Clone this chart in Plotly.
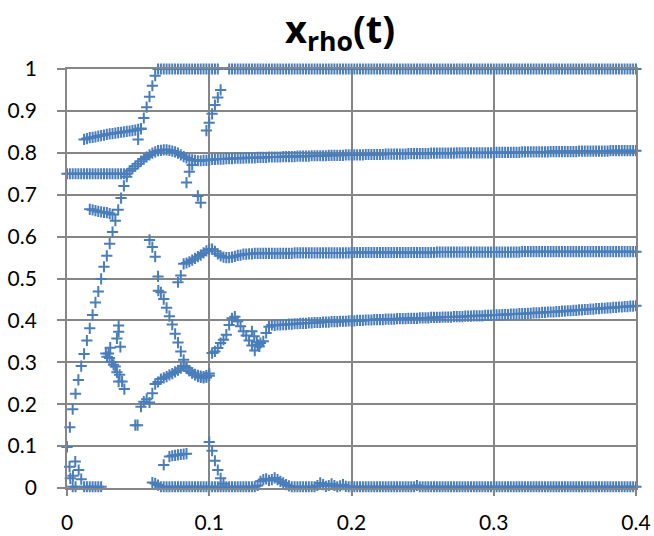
import plotly.graph_objects as go

# ---------------- data (time step of the simulation output) ----------------
DT = 0.002

def times(start_index, values):
    return [round((start_index + k) * DT, 4) for k in range(len(values))]

# top branch at 1.0
top_a_start = 32
top_a = [1, 1, 1, 1, 1, 1, 1, 1, 1, 1, 1, 1, 1, 1, 1, 1, 1, 1, 1, 1, 1, 1]
top_b_start = 57
top_b = [1, 1, 1, 1, 1, 1, 1, 1, 1, 1, 1, 1, 1, 1, 1, 1, 1, 1, 1, 1,
         1, 1, 1, 1, 1, 1, 1, 1, 1, 1, 1, 1, 1, 1, 1, 1, 1, 1, 1, 1,
         1, 1, 1, 1, 1, 1, 1, 1, 1, 1, 1, 1, 1, 1, 1, 1, 1, 1, 1, 1,
         1, 1, 1, 1, 1, 1, 1, 1, 1, 1, 1, 1, 1, 1, 1, 1, 1, 1, 1, 1,
         1, 1, 1, 1, 1, 1, 1, 1, 1, 1, 1, 1, 1, 1, 1, 1, 1, 1, 1, 1,
         1, 1, 1, 1, 1, 1, 1, 1, 1, 1, 1, 1, 1, 1, 1, 1, 1, 1, 1, 1,
         1, 1, 1, 1, 1, 1, 1, 1, 1, 1, 1, 1, 1, 1, 1, 1, 1, 1, 1, 1,
         1, 1, 1, 1]

# branch starting at 0.75 and settling near 0.8
b08_start = 0
b08 = [0.75, 0.75, 0.75, 0.75, 0.75, 0.75, 0.75, 0.75, 0.75, 0.75, 0.75,
       0.75, 0.75, 0.75, 0.75, 0.75, 0.75, 0.75, 0.75, 0.75, 0.75, 0.75,
       0.757, 0.762, 0.768, 0.774, 0.780, 0.785, 0.790, 0.795, 0.799, 0.802,
       0.805, 0.806, 0.807, 0.807, 0.806, 0.804, 0.802, 0.799, 0.795, 0.791,
       0.788, 0.785, 0.783, 0.782, 0.781, 0.781, 0.782, 0.782, 0.783,
       0.784, 0.784, 0.785, 0.785, 0.785, 0.786, 0.786, 0.786, 0.787, 0.787,
       0.787, 0.787, 0.788, 0.788, 0.788, 0.788, 0.789, 0.789, 0.789, 0.789,
       0.790, 0.790, 0.790, 0.790, 0.790, 0.791, 0.791, 0.791, 0.791, 0.791,
       0.792, 0.792, 0.792, 0.792, 0.792, 0.793, 0.793, 0.793, 0.793, 0.793,
       0.793, 0.794, 0.794, 0.794, 0.794, 0.794, 0.794, 0.795, 0.795, 0.795,
       0.795, 0.795, 0.795, 0.795, 0.796, 0.796, 0.796, 0.796, 0.796, 0.796,
       0.796, 0.797, 0.797, 0.797, 0.797, 0.797, 0.797, 0.797, 0.797, 0.798,
       0.798, 0.798, 0.798, 0.798, 0.798, 0.798, 0.798, 0.799, 0.799, 0.799,
       0.799, 0.799, 0.799, 0.799, 0.799, 0.799, 0.800, 0.800, 0.800, 0.800,
       0.800, 0.800, 0.800, 0.800, 0.800, 0.800, 0.800, 0.800, 0.800, 0.800,
       0.801, 0.801, 0.801, 0.801, 0.801, 0.801, 0.801, 0.801, 0.801, 0.802,
       0.802, 0.802, 0.802, 0.802, 0.802, 0.802, 0.802, 0.802, 0.802, 0.803,
       0.803, 0.803, 0.803, 0.803, 0.803, 0.803, 0.803, 0.803, 0.803, 0.804,
       0.804, 0.804, 0.804, 0.804, 0.804, 0.804, 0.804, 0.804, 0.804, 0.804,
       0.805, 0.805, 0.805, 0.805, 0.805, 0.805, 0.805, 0.805, 0.805, 0.805]

# early branch rising from 0.1 up to 1.0
rise_a_start = 0
rise_a = [0.098, 0.145, 0.188, 0.225, 0.258, 0.291, 0.320, 0.352, 0.381, 0.413,
          0.443, 0.469, 0.499, 0.528, 0.554, 0.583, 0.611, 0.638, 0.664, 0.692,
          0.721, 0.743]
rise_b_start = 25
rise_b = [0.832, 0.858, 0.883, 0.909, 0.934, 0.960, 0.984]

# short sloped branch near 0.84
b084_start = 6
b084 = [0.832, 0.834, 0.836, 0.837, 0.838, 0.840, 0.841, 0.842, 0.844, 0.845,
        0.846, 0.847, 0.848, 0.849, 0.850, 0.851, 0.852, 0.853, 0.854, 0.856,
        0.857]

# short branch near 0.66
b066_start = 8
b066 = [0.665, 0.664, 0.662, 0.660, 0.659, 0.658, 0.657, 0.655, 0.653]

# branch settling near 0.56
b056_start = 39
b056 = [0.491, 0.507, 0.535, 0.537, 0.540, 0.544, 0.548, 0.552, 0.556, 0.561,
        0.566, 0.570, 0.570, 0.565, 0.559, 0.554, 0.551, 0.550, 0.550, 0.551,
        0.553, 0.555, 0.556, 0.558, 0.558, 0.559, 0.559,
        0.560, 0.560, 0.560, 0.560, 0.560, 0.560, 0.560, 0.560, 0.560, 0.560,
        0.560, 0.560, 0.560, 0.560, 0.561, 0.561, 0.561, 0.561, 0.561, 0.561,
        0.561, 0.561, 0.561, 0.561, 0.561, 0.561, 0.561, 0.561, 0.561, 0.561,
        0.561, 0.561, 0.561, 0.561, 0.562, 0.562, 0.562, 0.562, 0.562, 0.562,
        0.562, 0.562, 0.562, 0.562, 0.562, 0.562, 0.562, 0.562, 0.562, 0.562,
        0.562, 0.562, 0.562, 0.562, 0.562, 0.562, 0.562, 0.562, 0.562, 0.562,
        0.562, 0.562, 0.562, 0.562, 0.563, 0.563, 0.563, 0.563, 0.563, 0.563,
        0.563, 0.563, 0.563, 0.563, 0.563, 0.563, 0.563, 0.563, 0.563, 0.563,
        0.563, 0.563, 0.563, 0.563, 0.563, 0.563, 0.563, 0.563, 0.563, 0.563,
        0.563, 0.563, 0.563, 0.563, 0.564, 0.564, 0.564, 0.564, 0.564, 0.564,
        0.564, 0.564, 0.564, 0.564, 0.564, 0.564, 0.564, 0.564, 0.564, 0.564,
        0.564, 0.564, 0.564, 0.564, 0.564, 0.564, 0.564, 0.564, 0.564, 0.564,
        0.564, 0.564, 0.564, 0.564, 0.564, 0.564, 0.564, 0.564, 0.564, 0.564,
        0.564, 0.564, 0.564, 0.564, 0.564]

# branch settling near 0.4
b040_start = 51
b040 = [0.322, 0.326, 0.334, 0.346, 0.354, 0.366, 0.389, 0.405,
        0.409, 0.398, 0.386, 0.374, 0.364, 0.352, 0.340, 0.328, 0.342, 0.346,
        0.350, 0.370, 0.385, 0.389,
        0.388, 0.389, 0.389, 0.390, 0.390, 0.391, 0.391, 0.392,
        0.392, 0.393, 0.393, 0.393, 0.394, 0.394, 0.395, 0.395, 0.395, 0.396,
        0.396, 0.396, 0.397, 0.397, 0.397, 0.398, 0.398, 0.398, 0.399, 0.399,
        0.399, 0.400, 0.400, 0.400, 0.401, 0.401, 0.401, 0.402, 0.402, 0.402,
        0.402, 0.403, 0.403, 0.403, 0.403, 0.404, 0.404, 0.404, 0.404, 0.405,
        0.405, 0.405, 0.405, 0.406, 0.406, 0.406, 0.406, 0.407, 0.407, 0.407,
        0.407, 0.408, 0.408, 0.408, 0.408, 0.409, 0.409, 0.409, 0.409, 0.410,
        0.410, 0.410, 0.411, 0.411, 0.411, 0.411, 0.412, 0.412, 0.412, 0.413,
        0.413, 0.413, 0.414, 0.414, 0.414, 0.415, 0.415, 0.415, 0.416, 0.416,
        0.416, 0.417, 0.417, 0.418, 0.418, 0.418, 0.419, 0.419, 0.420, 0.420,
        0.420, 0.421, 0.421, 0.422, 0.422, 0.423, 0.423, 0.424, 0.424, 0.425,
        0.425, 0.426, 0.426, 0.427, 0.427, 0.428, 0.428, 0.429, 0.429, 0.430,
        0.430, 0.431, 0.431, 0.432, 0.432, 0.433, 0.433, 0.434, 0.434, 0.435]
b040_extra_t = [0.1300, 0.1316, 0.1334, 0.1351]
b040_extra_y = [0.374, 0.362, 0.348, 0.338]

# branch falling from 0.59 to 0.27
fall_start = 29
fall = [0.592, 0.575, 0.552, 0.505, 0.467, 0.451, 0.430, 0.410, 0.390, 0.368,
        0.347, 0.326, 0.306, 0.286, 0.280, 0.274, 0.270, 0.266, 0.264, 0.263,
        0.264, 0.268]
fall_extra_t = [0.0642]
fall_extra_y = [0.471]

# lower branch rising from 0.2 to 0.29
low_start = 26
low = [0.194, 0.206, 0.212, 0.204, 0.226, 0.248, 0.253, 0.260, 0.263, 0.266,
       0.270, 0.273, 0.277, 0.281, 0.286, 0.291, 0.287, 0.280, 0.275, 0.271,
       0.269, 0.267, 0.266, 0.268, 0.273]

# scattered cluster around t = 0.03 - 0.05
clus_t = [0.0363, 0.0363, 0.0351, 0.0375, 0.0304, 0.0292, 0.0273, 0.0281,
          0.0299, 0.0316, 0.0327, 0.0339, 0.0351, 0.0370, 0.0363, 0.0387,
          0.0403, 0.0480, 0.0496]
clus_y = [0.388, 0.373, 0.357, 0.337, 0.335, 0.321, 0.321, 0.313,
          0.310, 0.301, 0.294, 0.290, 0.276, 0.270, 0.254, 0.254,
          0.236, 0.150, 0.150]

# jump branch near t = 0.085 - 0.11
jump_t = [0.084, 0.086, 0.088, 0.092, 0.094, 0.098, 0.100, 0.102, 0.104, 0.106, 0.108]
jump_y = [0.729, 0.755, 0.771, 0.697, 0.681, 0.853, 0.872, 0.893, 0.914, 0.932, 0.950]

# points near the origin
orig_t = [0.0018, 0.0023, 0.0042, 0.0058, 0.0082, 0.0100]
orig_y = [0.051, 0.023, 0.029, 0.063, 0.043, 0.021]
zero_a_t = [0.004, 0.006, 0.012, 0.014, 0.016, 0.018, 0.020, 0.022, 0.024]
zero_a_y = [0.003, 0.003, 0.003, 0.003, 0.003, 0.003, 0.003, 0.003, 0.003]

# branch near 0.08
b008_t = [0.068, 0.072, 0.074, 0.076, 0.078, 0.080, 0.082, 0.084]
b008_y = [0.055, 0.075, 0.077, 0.078, 0.079, 0.080, 0.081, 0.082]

# drop from 0.11 at t = 0.1
drop_start = 50
drop = [0.110, 0.089, 0.065, 0.043, 0.023, 0.010]

# bottom branch near 0
zero_b_start = 30
zero_b = [0.013, 0.011, 0.007, 0.003, 0.003, 0.003, 0.003, 0.003, 0.003, 0.003,
          0.003, 0.003, 0.003, 0.003, 0.003, 0.003, 0.003, 0.003, 0.003, 0.003,
          0.003, 0.003, 0.003, 0.003, 0.003, 0.003, 0.003, 0.003, 0.003, 0.003,
          0.003, 0.003, 0.003, 0.003, 0.003, 0.003, 0.003, 0.006, 0.016, 0.020,
          0.022, 0.018, 0.020, 0.024, 0.020, 0.016, 0.012, 0.008, 0.005, 0.003,
          0.003, 0.003, 0.003, 0.003, 0.003, 0.003, 0.003, 0.003, 0.006, 0.012,
          0.008, 0.004, 0.006, 0.010, 0.006, 0.003, 0.005, 0.008, 0.004, 0.003,
          0.003, 0.003, 0.003, 0.003, 0.003, 0.003, 0.003, 0.003, 0.003, 0.003,
          0.003, 0.003, 0.003, 0.003, 0.003, 0.003, 0.003, 0.003, 0.003, 0.003,
          0.003, 0.003, 0.003, 0.006, 0.003, 0.003, 0.003, 0.003, 0.003, 0.003,
          0.003, 0.003, 0.003, 0.003, 0.003, 0.003, 0.003, 0.003, 0.003, 0.003,
          0.003, 0.003, 0.003, 0.003, 0.003, 0.003, 0.003, 0.003, 0.003, 0.003,
          0.003, 0.003, 0.003, 0.003, 0.003, 0.003, 0.003, 0.003, 0.003, 0.003,
          0.003, 0.003, 0.003, 0.003, 0.003, 0.003, 0.003, 0.003, 0.003, 0.003,
          0.003, 0.003, 0.003, 0.003, 0.003, 0.003, 0.003, 0.003, 0.003, 0.003,
          0.003, 0.003, 0.003, 0.003, 0.003, 0.003, 0.003, 0.003, 0.003, 0.003,
          0.003, 0.003, 0.003, 0.003, 0.003, 0.003, 0.003, 0.003, 0.003, 0.003,
          0.003]

x_ticks = [0, 0.1, 0.2, 0.3, 0.4]
x_tick_labels = ["0", "0.1", "0.2", "0.3", "0.4"]
y_ticks = [0, 0.1, 0.2, 0.3, 0.4, 0.5, 0.6, 0.7, 0.8, 0.9, 1]
y_tick_labels = ["0", "0.1", "0.2", "0.3", "0.4", "0.5", "0.6", "0.7", "0.8", "0.9", "1"]

# ---------------- assemble ----------------
xs, ys = [], []
for start, vals in [(top_a_start, top_a), (top_b_start, top_b), (b08_start, b08),
                    (rise_a_start, rise_a), (rise_b_start, rise_b), (b084_start, b084),
                    (b066_start, b066), (b056_start, b056), (b040_start, b040),
                    (fall_start, fall), (low_start, low), (drop_start, drop),
                    (zero_b_start, zero_b)]:
    xs += times(start, vals)
    ys += vals
for tt, yy in [(b040_extra_t, b040_extra_y), (fall_extra_t, fall_extra_y),
               (clus_t, clus_y), (jump_t, jump_y), (orig_t, orig_y),
               (zero_a_t, zero_a_y), (b008_t, b008_y)]:
    xs += tt
    ys += yy

BLUE = "#4A7EBB"
GRID = "#868686"
FONT = "Lato, 'Open Sans', sans-serif"

fig = go.Figure(go.Scatter(
    x=xs, y=ys, mode="markers", cliponaxis=False, showlegend=False,
    marker=dict(symbol="cross-thin", size=8, color=BLUE,
                line=dict(color=BLUE, width=2)),
))

fig.update_layout(
    width=654, height=536,
    margin=dict(l=67, r=18, t=69, b=48),
    paper_bgcolor="white", plot_bgcolor="white",
    font=dict(family=FONT, size=21, color="#000000"),
    title=dict(text="<b>x<sub>rho</sub>(t)</b>", x=0.52, xanchor="center",
               y=0.944, yanchor="middle",
               font=dict(family="'Open Sans', Lato, sans-serif", size=38,
                         color="#000000")),
)
fig.update_xaxes(range=[0, 0.4], tickvals=x_ticks, ticktext=x_tick_labels,
                 automargin=False,
                 showgrid=True, gridcolor=GRID, gridwidth=1.8,
                 showline=True, linecolor=GRID, linewidth=1.8, mirror=True,
                 ticks="outside", ticklen=6, tickcolor=GRID, tickwidth=1.8,
                 zeroline=False, ticklabelstandoff=9)
fig.update_yaxes(range=[0, 1], tickvals=y_ticks, ticktext=y_tick_labels,
                 automargin=False,
                 showgrid=True, gridcolor=GRID, gridwidth=1.8,
                 showline=True, linecolor=GRID, linewidth=1.8, mirror=True,
                 ticks="outside", ticklen=8, tickcolor=GRID, tickwidth=1.8,
                 zeroline=False, ticklabelstandoff=16)

# remove the browser's default page margin so the figure fills the window
fig.write_html("out.html",
               config={"displayModeBar": False},
               post_script="document.body.style.margin='0';"
                           "document.body.style.overflow='hidden';")
